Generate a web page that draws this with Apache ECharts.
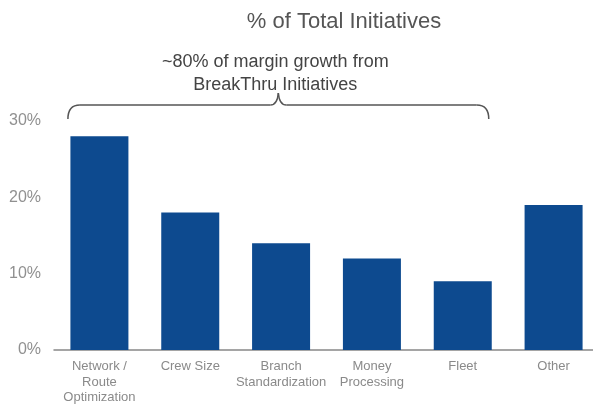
<!DOCTYPE html>
<html>
<head>
<meta charset="utf-8">
<script src="https://cdn.jsdelivr.net/npm/echarts@6/dist/echarts.min.js"></script>
<style>
  html, body { margin: 0; padding: 0; background: #fff; overflow: hidden; }
  #chart { width: 600px; height: 406px; }
</style>
</head>
<body>
<div id="chart"></div>
<script>
// Share of total initiatives by category (%)
const categories = ['Network /\nRoute\nOptimization', 'Crew Size', 'Branch\nStandardization', 'Money\nProcessing', 'Fleet', 'Other'];
const shares = [28, 18, 14, 12, 9, 19];
const yTicks = [0, 10, 20, 30];
const titleText = '% of Total Initiatives';
const noteText = '~80% of margin growth from\nBreakThru Initiatives';
// Categories grouped under the brace (first through fifth)
const braceFrom = 0;
const braceTo = 4;

const FONT = '"Liberation Sans", Arial, sans-serif';
const BAR_W = 58;

const chart = echarts.init(document.getElementById('chart'), null, { renderer: 'canvas' });

chart.setOption({
  animation: false,
  title: {
    text: titleText,
    left: 339,
    top: 6,
    textAlign: 'center',
    textStyle: { fontFamily: FONT, fontSize: 22, fontWeight: 'normal', color: '#555' }
  },
  // the last category runs slightly past the right edge of the view
  grid: { left: 54, top: 121, right: 1, bottom: 56, containLabel: false },
  xAxis: {
    type: 'category',
    data: categories,
    axisLine: { show: true, lineStyle: { color: '#888', width: 1.5 } },
    axisTick: { show: false },
    axisLabel: {
      interval: 0,
      margin: 9,
      fontFamily: FONT,
      fontSize: 13,
      lineHeight: 15.5,
      color: '#8a8a8a'
    }
  },
  yAxis: {
    type: 'value',
    min: yTicks[0],
    max: yTicks[yTicks.length - 1],
    interval: 10,
    axisLine: { show: false },
    axisTick: { show: false },
    splitLine: { show: false },
    axisLabel: {
      margin: 13,
      fontFamily: FONT,
      fontSize: 16,
      color: '#909090',
      formatter: v => v + '%'
    }
  },
  series: [{
    type: 'bar',
    data: shares,
    barWidth: BAR_W,
    itemStyle: { color: '#0d4a8f' }
  }]
});

// Curly brace spanning the grouped categories, plus its note
function drawBrace() {
  const xL = chart.convertToPixel({ xAxisIndex: 0 }, braceFrom) - BAR_W / 2 - 2.5;
  const xR = chart.convertToPixel({ xAxisIndex: 0 }, braceTo) + BAR_W / 2 - 3;
  const yEnd = 119, yMid = 105, yTip = 93;
  const tip = (xL + xR) / 2;
  const r = 12;
  const stroke = { fill: null, stroke: '#555', lineWidth: 1.5 };
  const curve = (x1, y1, cx, cy, x2, y2) => ({
    type: 'bezierCurve',
    shape: { x1, y1, cpx1: cx, cpy1: cy, x2, y2 },
    style: stroke
  });
  const seg = (x1, y1, x2, y2) => ({
    type: 'line',
    shape: { x1, y1, x2, y2 },
    style: stroke
  });
  chart.setOption({
    graphic: [
      curve(xL, yEnd, xL, yMid, xL + r, yMid),
      seg(xL + r, yMid, tip - 8, yMid),
      curve(tip - 8, yMid, tip - 1, yMid, tip, yTip),
      curve(tip, yTip, tip + 1, yMid, tip + 8, yMid),
      seg(tip + 8, yMid, xR - r, yMid),
      curve(xR - r, yMid, xR, yMid, xR, yEnd),
      {
        type: 'text',
        x: tip - 3,
        y: 51,
        style: {
          text: noteText,
          fontFamily: FONT,
          fontSize: 18,
          lineHeight: 23,
          fill: '#444',
          align: 'center'
        }
      }
    ]
  });
}
drawBrace();
</script>
</body>
</html>
